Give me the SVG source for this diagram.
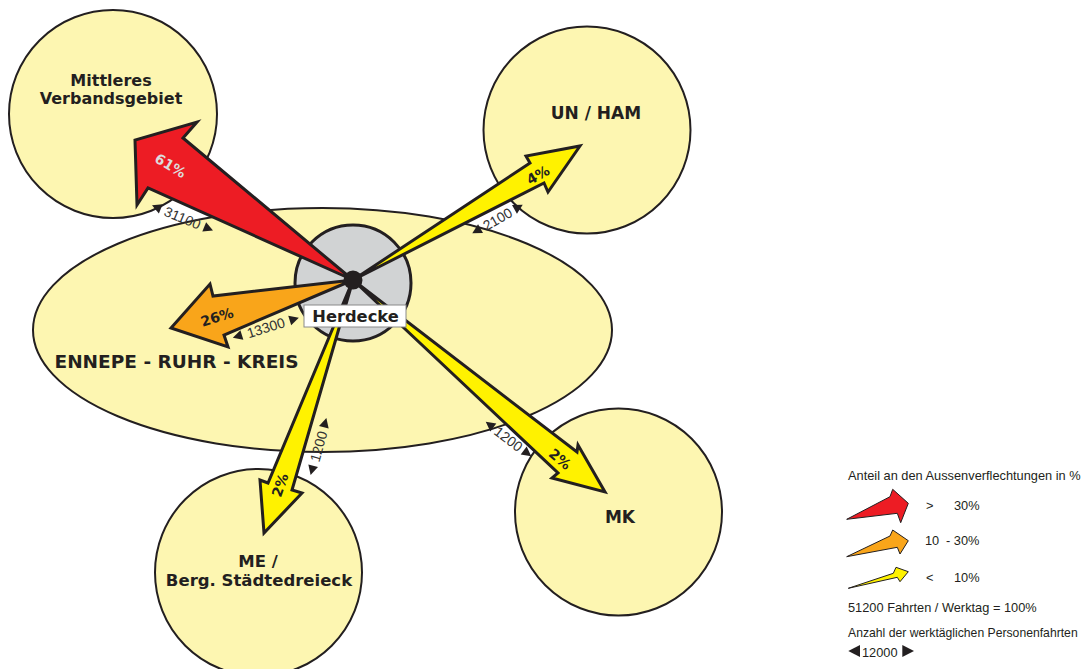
<svg xmlns="http://www.w3.org/2000/svg" width="1086" height="669" viewBox="0 0 1086 669">
<style>
.area{fill:#fdf6b1;stroke:#231f20;stroke-width:2}
.hub{fill:#d1d3d4;stroke:#231f20;stroke-width:3}
.arr{stroke:#231f20;stroke-width:3;stroke-linejoin:miter;stroke-miterlimit:4}
.red{fill:#ed1c24}.org{fill:#f9a51a}.yel{fill:#fff200}
.leg{stroke:#231f20;stroke-width:1;stroke-linejoin:miter;stroke-miterlimit:4}
.name{font-family:"DejaVu Sans",sans-serif;font-weight:bold;fill:#231f20;text-anchor:middle}
.pct{font-family:"DejaVu Sans",sans-serif;font-weight:bold;font-size:14px;fill:#231f20;text-anchor:middle}
.num{font-family:"Liberation Sans",Arial,sans-serif;font-size:14px;fill:#333;text-anchor:middle}
.lt{font-family:"Liberation Sans",Arial,sans-serif;font-size:12.8px;fill:#231f20}
.tri{fill:#231f20}
</style>

<g id="node-mittleres">
<circle class="area" cx="113" cy="114" r="104"/>
<text class="name" font-size="16" x="111" y="86">Mittleres</text>
<text class="name" font-size="16" x="111" y="104">Verbandsgebiet</text>
</g>
<g id="node-unham">
<circle class="area" cx="587" cy="130" r="103.5"/>
<text class="name" font-size="17" x="596" y="119">UN / HAM</text>
</g>
<g id="node-me">
<circle class="area" cx="258.5" cy="572.5" r="103.5"/>
<text class="name" font-size="16.5" x="258" y="567">ME /</text>
<text class="name" font-size="16.5" x="259" y="586">Berg. Städtedreieck</text>
</g>
<g id="node-mk">
<circle class="area" cx="618.5" cy="512" r="103.5"/>
<text class="name" font-size="17" x="620" y="523">MK</text>
</g>
<g id="node-ennepe">
<ellipse class="area" cx="322.5" cy="330" rx="289.5" ry="122"/>
<text class="name" font-size="18.5" x="176.5" y="368">ENNEPE - RUHR - KREIS</text>
</g>
<g id="node-herdecke-hub">
<circle class="hub" cx="353" cy="283" r="58"/>
</g>

<g id="connectors">
<polygon class="arr red" points="353,280 183,138 197,122 135,140 137,205 148,188"/>
<polygon class="arr org" points="353,280 213,296 210,284 171,328 228,347 224,335"/>
<polygon class="arr yel" points="353,280 530,163 526,156 580,146 548,192 544,183"/>
<polygon class="arr yel" points="353,280 268,483 260,480 264,533 302,493 292,490"/>
<polygon class="arr yel" points="353,280 577,452 578,445 605,492 552,478 558,473"/>
</g>

<g id="node-herdecke">
<circle cx="353" cy="280" r="9.5" fill="#231f20"/>
<rect x="304" y="305" width="102" height="22" fill="#fff" stroke="#8a8a8a" stroke-width="1"/>
<text class="name" font-size="16.3" x="355.5" y="321.5">Herdecke</text>
</g>

<g id="connector-labels">
<text class="pct" transform="translate(170.5,165.5) rotate(31)" y="5" style="fill:#dcdcdc">61%</text>
<text class="pct" transform="translate(217,317) rotate(-17)" y="5">26%</text>
<text class="pct" transform="translate(538,175) rotate(-30.6)" y="5">4%</text>
<text class="pct" transform="translate(280,485) rotate(-70.6)" y="5">2%</text>
<text class="pct" transform="translate(560,459) rotate(40)" y="5">2%</text>

<g transform="translate(182.5,217.8) rotate(22.4)">
<polygon class="tri" points="-33,0 -23.5,-5 -23.5,5"/>
<text class="num" y="5">31100</text>
<polygon class="tri" points="33,0 23.5,-5 23.5,5"/>
</g>
<g transform="translate(497.5,219) rotate(-29.5)">
<polygon class="tri" points="-29,0 -19.5,-5 -19.5,5"/>
<text class="num" y="5">2100</text>
<polygon class="tri" points="29,0 19.5,-5 19.5,5"/>
</g>
<g transform="translate(265.8,327.7) rotate(-16.9)">
<polygon class="tri" points="-34.5,0 -25,-5 -25,5"/>
<text class="num" y="5">13300</text>
<polygon class="tri" points="34.5,0 25,-5 25,5"/>
</g>
<g transform="translate(318.5,446.5) rotate(-74.5)">
<polygon class="tri" points="-29.5,0 -20,-5 -20,5"/>
<text class="num" y="5">1200</text>
<polygon class="tri" points="29.5,0 20,-5 20,5"/>
</g>
<g transform="translate(508.5,439) rotate(37)">
<polygon class="tri" points="-28.5,0 -19,-5 -19,5"/>
<text class="num" y="5">1200</text>
<polygon class="tri" points="28.5,0 19,-5 19,5"/>
</g>
</g>

<g id="legend">
<text class="lt" x="848" y="479.5">Anteil an den Aussenverflechtungen in %</text>
<polygon class="leg red" points="846.7,519.3 890,496.7 892.7,489.3 908.3,503.3 900.7,522.7 897.3,513.3"/>
<text class="lt" x="926" y="509.5">&gt;</text>
<text class="lt" x="954" y="509.5">30%</text>
<polygon class="leg org" points="846.7,556.7 890,536 892.7,530 908.3,540.7 900,554 897.3,547.3"/>
<text class="lt" x="925" y="545">10</text>
<text class="lt" x="946" y="545">- 30%</text>
<polygon class="leg yel" points="848.3,588.3 893.3,573.3 896,567.3 908.3,571.7 900,581.7 897.3,577.3"/>
<text class="lt" x="926" y="582">&lt;</text>
<text class="lt" x="954" y="582">10%</text>
<text class="lt" x="848" y="612">51200 Fahrten / Werktag = 100%</text>
<text class="lt" x="848" y="637" style="font-size:12.2px">Anzahl der werktäglichen Personenfahrten</text>
<polygon class="tri" points="848.3,651 860,645 860,657"/>
<text class="lt" x="862" y="656.5">12000</text>
<polygon class="tri" points="914,651 902.3,645 902.3,657"/>
</g>
</svg>
